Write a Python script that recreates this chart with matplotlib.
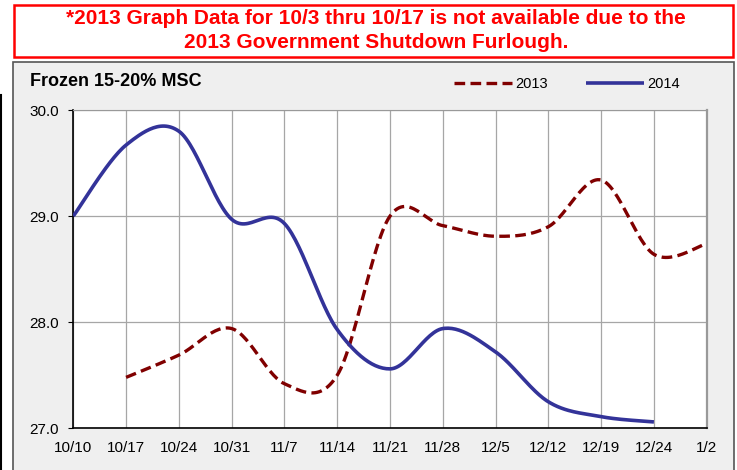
import matplotlib
matplotlib.use("Agg")
import matplotlib.pyplot as plt
import numpy as np
from matplotlib.lines import Line2D
from matplotlib.patches import Rectangle

plt.rcParams['font.family'] = ['Liberation Sans', 'DejaVu Sans']

# data
dates = ['10/10', '10/17', '10/24', '10/31', '11/7', '11/14', '11/21',
         '11/28', '12/5', '12/12', '12/19', '12/24', '1/2']
y2013 = [27.48, 27.69, 27.94, 27.42, 27.50, 29.00, 28.91, 28.81, 28.90, 29.34, 28.64, 28.74]
y2014 = [29.00, 29.67, 29.80, 28.97, 28.93, 27.93, 27.56, 27.94, 27.72, 27.25, 27.11, 27.06]
x2013 = list(range(1, 13))
x2014 = list(range(0, 12))


def smooth(xs, ys, n=30):
    # excel style smoothed line (catmull-rom bezier)
    p = np.column_stack([xs, ys]).astype(float)
    p = np.vstack([p[0], p, p[-1]])
    out = []
    t = np.linspace(0, 1, n)[:, None]
    for i in range(1, len(p) - 2):
        a, b = p[i], p[i + 1]
        c1 = a + (p[i + 1] - p[i - 1]) / 6
        c2 = b - (p[i + 2] - p[i]) / 6
        seg = (1 - t)**3 * a + 3 * (1 - t)**2 * t * c1 + 3 * (1 - t) * t**2 * c2 + t**3 * b
        out.append(seg if i == 1 else seg[1:])
    out = np.vstack(out)
    return out[:, 0], out[:, 1]


fig = plt.figure(figsize=(7.37, 4.70), dpi=100)
W, H = 737, 470

# chart area background
fig.add_artist(Rectangle((13 / W, -0.01), 721 / W, 1.01 - 62 / H, transform=fig.transFigure,
                         facecolor='#efefef', edgecolor='#555555', lw=1.2, zorder=-10))
# red note box
fig.add_artist(Rectangle((14 / W, 1 - 57 / H), 719 / W, 52 / H, transform=fig.transFigure,
                         facecolor='white', edgecolor='#ff0000', lw=1.8, zorder=-10))
fig.text(376 / W, 1 - 19 / H, '*2013 Graph Data for 10/3 thru 10/17 is not available due to the',
         color='#ff0000', fontsize=15, fontweight='bold', ha='center', va='center')
fig.text(376 / W, 1 - 42 / H, '2013 Government Shutdown Furlough.',
         color='#ff0000', fontsize=15, fontweight='bold', ha='center', va='center')
fig.add_artist(Line2D([1 / W, 1 / W], [0, 1 - 95 / H], color='black', lw=1.5))

ax = fig.add_axes([73.3 / W, 1 - 428.3 / H, 633.4 / W, 318.3 / H])
ax.set_facecolor('white')

sx, sy = smooth(x2013, y2013)
ax.plot(sx, sy, color='#800000', lw=2.4, dashes=(3.2, 1.6), label='2013', zorder=3)
sx, sy = smooth(x2014, y2014)
ax.plot(sx, sy, color='#333399', lw=2.6, label='2014', zorder=3, solid_capstyle='butt')

ax.set_xlim(0, 12)
ax.set_ylim(27, 30)
ax.set_xticks(range(len(dates)))
ax.set_xticklabels(dates, fontsize=11)
ax.set_yticks([27, 28, 29, 30])
ax.set_yticklabels(['27.0', '28.0', '29.0', '30.0'], fontsize=11)
ax.grid(True, color='#a6a6a6', lw=0.9)
ax.tick_params(axis='x', length=0, pad=9)
ax.tick_params(axis='y', length=3.5, width=0.8, pad=7)
ax.spines['left'].set_color('black')
ax.spines['bottom'].set_color('black')
ax.spines['left'].set_linewidth(1.2)
ax.spines['bottom'].set_linewidth(1.2)
ax.spines['top'].set_color('#999999')
ax.spines['right'].set_color('#999999')
ax.spines['right'].set_linewidth(1.6)

fig.text(30 / W, 1 - 81 / H, 'Frozen 15-20% MSC', fontsize=13, fontweight='bold', va='center')

ax.legend(loc='upper left', bbox_to_anchor=(454 / W, 1 - 77 / H), bbox_transform=fig.transFigure,
          ncol=2, frameon=False, fontsize=10.5, handlelength=4.0, handletextpad=0.2,
          columnspacing=2.6, borderaxespad=0, borderpad=0)

fig.savefig('out.png', dpi=100)
